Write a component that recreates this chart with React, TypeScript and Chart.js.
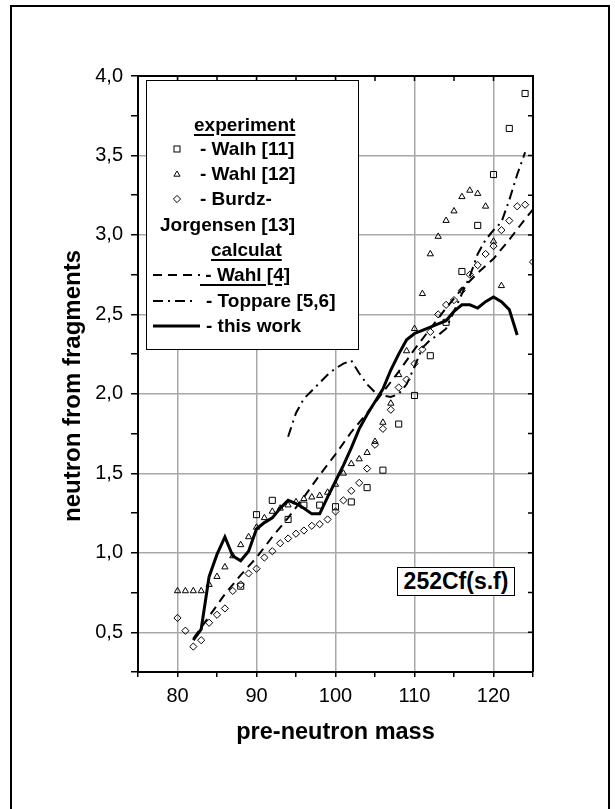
import React, { useEffect, useRef } from "react";
import { Chart, registerables } from "chart.js";

Chart.register(...registerables);

const FONT = '"Liberation Sans", Arial, Helvetica, sans-serif';

// Experiment: Walh [11] (open squares)
const walhMass = [88, 90, 92, 94, 96, 98, 100, 102, 104, 106, 108, 110, 112, 114, 116, 118, 120, 122, 124];
const walhNu = [0.79, 1.24, 1.33, 1.21, 1.3, 1.3, 1.29, 1.32, 1.41, 1.52, 1.81, 1.99, 2.24, 2.45, 2.77, 3.06, 3.38, 3.67, 3.89];

// Experiment: Wahl [12] (open triangles)
const wahl12Mass = [80, 81, 82, 83, 84, 85, 86, 87, 88, 89, 90, 91, 92, 93, 94, 95, 96, 97, 98, 99, 100, 101, 102, 103, 104, 105, 106, 107, 108, 109, 110, 111, 112, 113, 114, 115, 116, 117, 118, 119, 120, 121];
const wahl12Nu = [0.76, 0.76, 0.76, 0.76, 0.8, 0.85, 0.91, 0.98, 1.05, 1.1, 1.16, 1.22, 1.26, 1.28, 1.3, 1.32, 1.34, 1.35, 1.36, 1.38, 1.43, 1.5, 1.56, 1.59, 1.63, 1.7, 1.82, 1.94, 2.12, 2.27, 2.41, 2.63, 2.88, 2.99, 3.09, 3.15, 3.24, 3.28, 3.26, 3.18, 2.96, 2.68];

// Experiment: Burdz-Jorgensen [13] (open diamonds)
const burdzMass = [80, 81, 82, 83, 84, 85, 86, 87, 88, 89, 90, 91, 92, 93, 94, 95, 96, 97, 98, 99, 100, 101, 102, 103, 104, 105, 106, 107, 108, 109, 110, 111, 112, 113, 114, 115, 116, 117, 118, 119, 120, 121, 122, 123, 124, 125];
const burdzNu = [0.59, 0.51, 0.41, 0.45, 0.56, 0.61, 0.65, 0.76, 0.8, 0.87, 0.9, 0.97, 1.01, 1.06, 1.09, 1.12, 1.14, 1.17, 1.18, 1.21, 1.26, 1.33, 1.39, 1.44, 1.53, 1.68, 1.78, 1.9, 2.04, 2.09, 2.19, 2.28, 2.39, 2.5, 2.56, 2.59, 2.65, 2.75, 2.81, 2.88, 2.93, 3.03, 3.09, 3.18, 3.19, 2.83];

// Calculation: Wahl [4] (dashed)
const wahl4Mass = [82, 84, 86, 88, 90, 92, 94, 96, 98, 100, 102, 104, 106, 108, 110, 112, 114, 116, 118, 120, 122, 124, 125];
const wahl4Nu = [0.46, 0.6, 0.74, 0.86, 0.97, 1.1, 1.22, 1.35, 1.49, 1.62, 1.76, 1.88, 2.01, 2.14, 2.28, 2.41, 2.54, 2.66, 2.76, 2.85, 2.97, 3.1, 3.16];

// Calculation: Toppare [5,6] (dash-dot)
const toppareMass = [94, 95, 96, 97, 98, 99, 100, 101, 102, 103, 104, 105, 106, 107, 108, 109, 110, 111, 112, 113, 114, 115, 116, 117, 118, 119, 120, 121, 122, 123, 124];
const toppareNu = [1.73, 1.88, 1.97, 2.02, 2.07, 2.12, 2.16, 2.19, 2.21, 2.13, 2.06, 2.01, 1.99, 1.98, 2.0, 2.06, 2.17, 2.29, 2.34, 2.37, 2.41, 2.52, 2.63, 2.74, 2.88, 2.97, 3.03, 3.08, 3.22, 3.38, 3.52];

// Calculation: this work (solid)
const thisMass = [82, 83, 84, 85, 86, 87, 88, 89, 90, 91, 92, 93, 94, 95, 96, 97, 98, 99, 100, 101, 102, 103, 104, 105, 106, 107, 108, 109, 110, 111, 112, 113, 114, 115, 116, 117, 118, 119, 120, 121, 122, 123];
const thisNu = [0.45, 0.52, 0.85, 0.99, 1.1, 0.98, 0.95, 1.01, 1.15, 1.19, 1.22, 1.28, 1.33, 1.31, 1.28, 1.245, 1.245, 1.35, 1.45, 1.55, 1.66, 1.78, 1.87, 1.95, 2.03, 2.15, 2.25, 2.34, 2.38, 2.4, 2.42, 2.44, 2.46, 2.52, 2.56, 2.56, 2.54, 2.58, 2.61, 2.58, 2.53, 2.37];

const X_MIN = 75;
const X_MAX = 125;
const Y_MIN = 0.25;
const Y_MAX = 4.0;

const X_TITLE = "pre-neutron mass";
const Y_TITLE = "neutron from fragments";

const pts = (xs: number[], ys: number[]) => xs.map((x, i) => ({ x, y: ys[i] }));
const isMult = (v: number, s: number) => Math.abs(v / s - Math.round(v / s)) < 1e-6;

const framePlugin = {
  id: "frame",
  afterDraw(chart: any) {
    const { ctx, chartArea: a, scales } = chart;
    const xs = scales.x;
    const ys = scales.y;
    ctx.save();
    ctx.strokeStyle = "#000";
    ctx.lineWidth = 2;
    ctx.beginPath();
    ctx.moveTo(a.left, a.top);
    ctx.lineTo(a.right, a.top);
    ctx.lineTo(a.right, a.bottom);
    ctx.stroke();
    ctx.lineWidth = 1.5;
    ctx.beginPath();
    for (const t of xs.ticks) {
      const px = xs.getPixelForValue(t.value);
      ctx.moveTo(px, a.top);
      ctx.lineTo(px, a.top + 5);
    }
    for (const t of ys.ticks) {
      const py = ys.getPixelForValue(t.value);
      ctx.moveTo(a.right, py);
      ctx.lineTo(a.right - 5, py);
    }
    ctx.stroke();
    ctx.restore();
  },
};

const GRID = "#a8a8a8";

export default function App() {
  const ref = useRef<HTMLCanvasElement | null>(null);

  useEffect(() => {
    if (!ref.current) return;
    const marker = {
      showLine: false,
      borderColor: "#000",
      backgroundColor: "rgba(0,0,0,0)",
      borderWidth: 1,
      pointBorderWidth: 1,
    };
    const chart = new Chart(ref.current, {
      type: "scatter",
      data: {
        datasets: [
          {
            label: "- this work",
            data: pts(thisMass, thisNu),
            showLine: true,
            borderColor: "#000",
            borderWidth: 3,
            pointRadius: 0,
            tension: 0,
            order: 0,
          },
          {
            label: "- Wahl [4]",
            data: pts(wahl4Mass, wahl4Nu),
            showLine: true,
            borderColor: "#000",
            borderWidth: 2,
            borderDash: [9, 6],
            pointRadius: 0,
            order: 1,
          },
          {
            label: "- Toppare [5,6]",
            data: pts(toppareMass, toppareNu),
            showLine: true,
            borderColor: "#000",
            borderWidth: 2,
            borderDash: [10, 5, 2, 5],
            pointRadius: 0,
            order: 2,
          },
          { label: "- Walh [11]", data: pts(walhMass, walhNu), pointStyle: "rect", pointRadius: 4.3, order: 3, ...marker },
          { label: "- Wahl [12]", data: pts(wahl12Mass, wahl12Nu), pointStyle: "triangle", pointRadius: 3.6, order: 4, ...marker },
          { label: "- Burdz-Jorgensen [13]", data: pts(burdzMass, burdzNu), pointStyle: "rectRot", pointRadius: 3.6, order: 5, ...marker },
        ],
      } as any,
      options: {
        responsive: false,
        animation: false,
        devicePixelRatio: 1,
        layout: { padding: { left: 0, top: 76, right: 82, bottom: 0 } },
        plugins: { legend: { display: false }, tooltip: { enabled: false } },
        scales: {
          x: {
            type: "linear",
            min: X_MIN,
            max: X_MAX,
            afterFit: (s: any) => {
              s.height = 137;
            },
            ticks: {
              stepSize: 5,
              autoSkip: false,
              maxRotation: 0,
              padding: 7,
              color: "#000",
              font: { family: FONT, size: 20 },
              callback: (v: any) => (isMult(Number(v), 10) ? String(v) : ""),
            },
            grid: {
              color: (c: any) =>
                c.tick && isMult(c.tick.value, 10) && c.tick.value > X_MIN && c.tick.value < X_MAX ? GRID : "rgba(0,0,0,0)",
              lineWidth: 1.5,
              drawTicks: true,
              tickLength: 5,
              tickColor: "#000",
              tickWidth: 1.5,
            },
            border: { display: true, color: "#000", width: 2 },
            title: {
              display: true,
              text: X_TITLE,
              color: "#000",
              font: { family: FONT, size: 23.5, weight: "bold" },
              padding: { top: 0, bottom: 62 },
            },
          },
          y: {
            type: "linear",
            min: Y_MIN,
            max: Y_MAX,
            afterFit: (s: any) => {
              s.width = 138;
            },
            ticks: {
              stepSize: 0.25,
              autoSkip: false,
              padding: 8,
              color: "#000",
              font: { family: FONT, size: 20 },
              callback: (v: any) => (isMult(Number(v), 0.5) ? Number(v).toFixed(1).replace(".", ",") : ""),
            },
            grid: {
              color: (c: any) =>
                c.tick && isMult(c.tick.value, 0.5) && c.tick.value > Y_MIN + 1e-6 && c.tick.value < Y_MAX - 1e-6 ? GRID : "rgba(0,0,0,0)",
              lineWidth: 1.5,
              drawTicks: true,
              tickLength: 7,
              tickColor: "#000",
              tickWidth: 1.5,
            },
            border: { display: true, color: "#000", width: 2 },
            title: { display: false },
          },
        },
      } as any,
      plugins: [framePlugin],
    });
    return () => chart.destroy();
  }, []);

  const txt = (left: number, cy: number, extra: React.CSSProperties = {}): React.CSSProperties => ({
    position: "absolute",
    left,
    top: cy - 12,
    height: 24,
    lineHeight: "24px",
    fontSize: 19,
    fontWeight: "bold",
    fontFamily: FONT,
    whiteSpace: "nowrap",
    color: "#000",
    ...extra,
  });
  const ul: React.CSSProperties = {
    textDecoration: "underline",
    textDecorationThickness: "2px",
    textUnderlineOffset: "3px",
  };

  return (
    <div style={{ position: "absolute", left: 0, top: 0, width: 615, height: 809, overflow: "hidden", background: "#fff" }}>
      <canvas ref={ref} width={615} height={809} style={{ position: "absolute", left: 0, top: 0, width: 615, height: 809 }} />
      {/* y axis title */}
      <div
        style={{
          position: "absolute",
          left: 72 - 160,
          top: 386 - 15,
          width: 320,
          height: 30,
          lineHeight: "30px",
          textAlign: "center",
          transform: "rotate(-90deg)",
          fontFamily: FONT,
          fontWeight: "bold",
          fontSize: 24,
          color: "#000",
          whiteSpace: "nowrap",
        }}
      >
        {Y_TITLE}
      </div>
      {/* outer frame */}
      <div
        style={{
          position: "absolute",
          left: 10,
          top: 5,
          width: 600,
          height: 830,
          border: "2px solid #000",
          boxSizing: "border-box",
          pointerEvents: "none",
        }}
      />
      {/* legend box */}
      <div
        style={{
          position: "absolute",
          left: 146,
          top: 80,
          width: 213,
          height: 270,
          border: "1.5px solid #000",
          boxSizing: "border-box",
          background: "#fff",
        }}
      />
      <svg style={{ position: "absolute", left: 0, top: 0 }} width={615} height={809}>
        <rect x={174} y={146} width={6} height={6} fill="none" stroke="#000" strokeWidth={1} />
        <polygon points="177,171 180.1,176.2 173.9,176.2" fill="none" stroke="#000" strokeWidth={1} />
        <polygon points="177,195.4 180.6,199 177,202.6 173.4,199" fill="none" stroke="#000" strokeWidth={1} />
        <line x1={153} y1={275} x2={200} y2={275} stroke="#000" strokeWidth={2} strokeDasharray="9 6" />
        <line x1={153} y1={301} x2={196} y2={301} stroke="#000" strokeWidth={2} strokeDasharray="10 5 2 5" />
        <line x1={153} y1={326} x2={200} y2={326} stroke="#000" strokeWidth={3} />
      </svg>
      <div style={txt(194, 125, ul)}>experiment</div>
      <div style={txt(200, 149)}>- Walh [11]</div>
      <div style={txt(200, 174)}>- Wahl [12]</div>
      <div style={txt(200, 199)}>- Burdz-</div>
      <div style={txt(160, 225)}>Jorgensen [13]</div>
      <div style={txt(211, 250, ul)}>calculat</div>
      <div style={txt(200, 275, ul)}>{"\u00a0- Wahl [4]"}</div>
      <div style={txt(206, 301)}>- Toppare [5,6]</div>
      <div style={txt(206, 326)}>- this work</div>
      {/* annotation */}
      <div
        style={{
          position: "absolute",
          left: 397,
          top: 567,
          width: 118,
          height: 29,
          border: "1.5px solid #000",
          boxSizing: "border-box",
          background: "#fff",
          fontFamily: FONT,
          fontWeight: "bold",
          fontSize: 23,
          lineHeight: "26px",
          textAlign: "center",
          color: "#000",
          whiteSpace: "nowrap",
        }}
      >
        252Cf(s.f)
      </div>
    </div>
  );
}
